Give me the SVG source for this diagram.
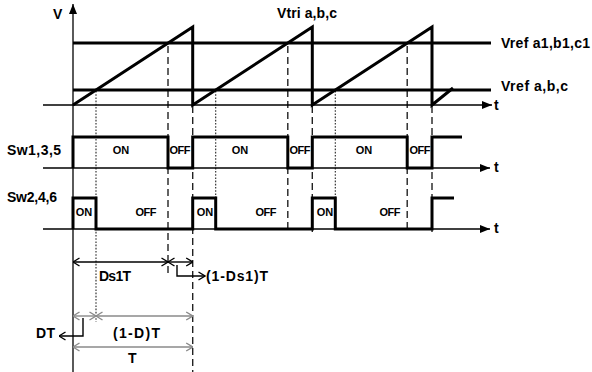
<svg xmlns="http://www.w3.org/2000/svg" width="592" height="372" viewBox="0 0 592 372">
<defs>
<style>
.ax{stroke:#000;stroke-width:1.3;fill:none}
.wv{stroke:#000;stroke-width:3;fill:none;stroke-linejoin:miter;stroke-miterlimit:6}
.ref{stroke:#000;stroke-width:3;fill:none}
.dash{stroke:#222;stroke-width:1.4;stroke-dasharray:7 4;fill:none}
.dot{stroke:#222;stroke-width:1.1;stroke-dasharray:1.6 1.6;fill:none}
.dim{stroke:#000;stroke-width:1.4;fill:none}
.dimg{stroke:#8a8a8a;stroke-width:1.4;fill:none}
text{font-family:"Liberation Sans",Arial,sans-serif;font-weight:bold;fill:#000}
.lb{font-size:14px}
.sm{font-size:11px}
</style>
<marker id="tri" viewBox="0 0 10 8" refX="10" refY="4" markerWidth="10" markerHeight="8" markerUnits="userSpaceOnUse" orient="auto">
<path d="M0,0 L10,4 L0,8 Z" fill="#000"/>
</marker>
<marker id="op" viewBox="0 0 8 10" refX="7.5" refY="5" markerWidth="8" markerHeight="10" markerUnits="userSpaceOnUse" orient="auto-start-reverse">
<path d="M1,1 L7.5,5 L1,9" fill="none" stroke="#000" stroke-width="1.4"/>
</marker>
<marker id="opg" viewBox="0 0 8 10" refX="7.5" refY="5" markerWidth="8" markerHeight="10" markerUnits="userSpaceOnUse" orient="auto-start-reverse">
<path d="M1,1 L7.5,5 L1,9" fill="none" stroke="#8a8a8a" stroke-width="1.4"/>
</marker>
</defs>
<rect width="592" height="372" fill="#fff"/>

<g id="guides">
<path class="dash" d="M168,46 V273"/>
<path class="dash" d="M192.7,106 V372"/>
<path class="dash" d="M287.8,46 V232"/>
<path class="dash" d="M312.3,106 V232"/>
<path class="dash" d="M407.2,46 V232"/>
<path class="dash" d="M432,106 V232"/>
<path class="dot" d="M96,91 V322"/>
<path class="dot" d="M215.7,91 V198"/>
<path class="dot" d="M335.3,91 V198"/>
</g>

<g id="axes">
<path class="ax" d="M73,372 V4" marker-end="url(#tri)"/>
<path class="ax" d="M43,105 H492" marker-end="url(#tri)"/>
<path class="ax" d="M43,168 H490" marker-end="url(#tri)"/>
<path class="ax" d="M43,229 H490" marker-end="url(#tri)"/>
<text class="lb" x="53" y="18.5" font-size="13">V</text>
<text class="lb" x="494" y="110">t</text>
<text class="lb" x="494" y="172">t</text>
<text class="lb" x="494" y="233">t</text>
</g>

<g id="references">
<path class="ref" d="M73,43 H491"/>
<path class="ref" d="M73,90 H491"/>
<text class="lb" x="501" y="48" textLength="89">Vref a1,b1,c1</text>
<text class="lb" x="501" y="91" textLength="67">Vref a,b,c</text>
</g>

<g id="carrier">
<path class="wv" d="M73,105 L192.7,27 L192.7,105 L312.3,27 L312.3,105 L432,27 L432,105 L453,88"/>
<text class="lb" x="277" y="17.5" textLength="60">Vtri a,b,c</text>
</g>

<g id="sw135">
<path class="wv" d="M73,168 V137 H168 V168 H192.7 V137 H287.8 V168 H312.3 V137 H407.2 V168 H432 V137 H462"/>
<text class="lb" x="7" y="155" textLength="54">Sw1,3,5</text>
<text class="sm" x="121" y="154" text-anchor="middle">ON</text>
<text class="sm" x="240" y="154" text-anchor="middle">ON</text>
<text class="sm" x="364" y="154" text-anchor="middle">ON</text>
<text class="sm" x="180" y="154" text-anchor="middle" textLength="21">OFF</text>
<text class="sm" x="300" y="154" text-anchor="middle" textLength="21">OFF</text>
<text class="sm" x="420" y="154" text-anchor="middle" textLength="21">OFF</text>
</g>

<g id="sw246">
<path class="wv" d="M73,229 V198 H96 V229 H192.7 V198 H215.7 V229 H312.3 V198 H335.3 V229 H432 V198 H454"/>
<text class="lb" x="7" y="202" textLength="50">Sw2,4,6</text>
<text class="sm" x="84" y="216" text-anchor="middle">ON</text>
<text class="sm" x="205" y="216" text-anchor="middle">ON</text>
<text class="sm" x="325" y="216" text-anchor="middle">ON</text>
<text class="sm" x="146" y="216" text-anchor="middle" textLength="21">OFF</text>
<text class="sm" x="266" y="216" text-anchor="middle" textLength="21">OFF</text>
<text class="sm" x="390" y="216" text-anchor="middle" textLength="21">OFF</text>
</g>

<g id="dimensions">
<path class="dim" d="M73,262 H168" marker-start="url(#op)" marker-end="url(#op)"/>
<path class="dim" d="M168,262 H192.7" marker-start="url(#op)" marker-end="url(#op)"/>
<text class="lb" x="99" y="281" textLength="32">Ds1T</text>
<path class="dim" d="M177,265 V276 H205" marker-end="url(#op)"/>
<text class="lb" x="206" y="281" textLength="62">(1-Ds1)T</text>
<path class="dimg" d="M73,316 H96" marker-start="url(#opg)" marker-end="url(#opg)"/>
<path class="dimg" d="M96,316 H192.7" marker-start="url(#opg)" marker-end="url(#opg)"/>
<path class="dim" d="M83,318 V336 H59" marker-end="url(#op)"/>
<text class="lb" x="36" y="338" textLength="19">DT</text>
<text class="lb" x="113" y="338" textLength="47">(1-D)T</text>
<path class="dimg" d="M73,347 H192.7" marker-start="url(#opg)" marker-end="url(#opg)"/>
<text class="lb" x="128" y="363">T</text>
</g>
</svg>
